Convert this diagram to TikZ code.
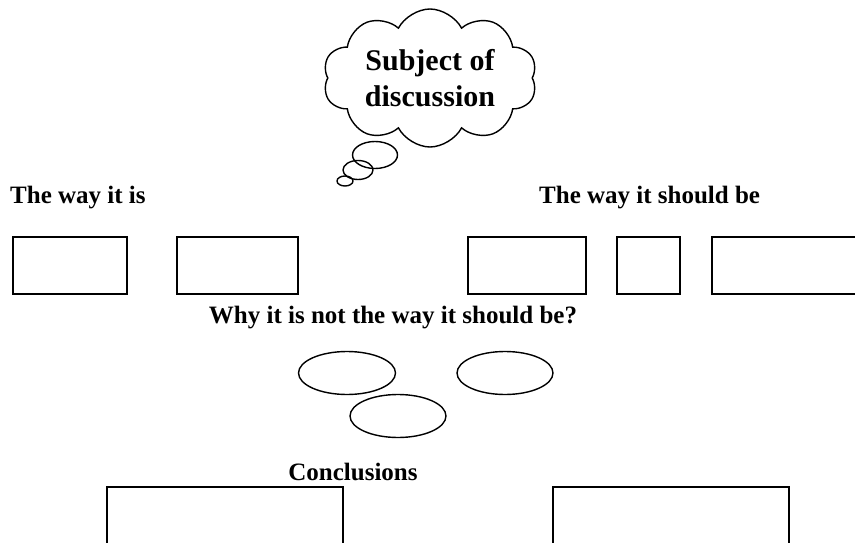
\documentclass[tikz,border=0pt]{standalone}
\usepackage{fontspec}
\setmainfont{Liberation Serif}
\usetikzlibrary{shapes.symbols, shapes.geometric}

\begin{document}
\begin{tikzpicture}[x=1pt, y=-1pt,
    lbl/.style={font=\bfseries\fontsize{25}{27}\selectfont, inner sep=0pt},
    blank/.style={draw, line width=1.4pt, inner sep=0pt, minimum height=57pt},
    bubble/.style={draw, line width=1.4pt, ellipse, inner sep=0pt}]
      \useasboundingbox (0,0) rectangle (855,543);
      \clip (0,0) rectangle (855,543);
      % Cloud:
      \node[cloud, draw, line width=1.4pt, cloud puffs=10, cloud puff arc=125, cloud ignores aspect,
            minimum width=214pt, minimum height=138pt, inner sep=0pt, align=center,
            font=\bfseries\fontsize{30}{36}\selectfont] (subject) at (430,78) {Subject of\\discussion};
      \node[bubble, minimum width=45pt, minimum height=27pt] (big) at (375,155) {};
      \node[bubble, minimum width=30pt, minimum height=19pt] (mid) at (358,170) {};
      \node[bubble, minimum width=16pt, minimum height=10pt] (small) at (345,181) {};
      % Headings:
      \node[lbl, anchor=west] (is) at (10,198) {The way it is};
      \node[lbl, anchor=west] (should) at (539,198) {The way it should be};
      \node[lbl] (why) at (393,318) {Why it is not the way it should be?};
      \node[lbl] (concl) at (353,472) {Conclusions};
      % Boxes:
      \node[blank, minimum width=114pt] (is1) at (70,265.5) {};
      \node[blank, minimum width=121pt] (is2) at (237.5,265.5) {};
      \node[blank, minimum width=118pt] (sh1) at (527,265.5) {};
      \node[blank, minimum width=63pt] (sh2) at (648.5,265.5) {};
      \node[blank, minimum width=158pt] (sh3) at (791,265.5) {};
      % Reasons:
      \node[bubble, minimum width=97pt, minimum height=43pt] (r1) at (347,373) {};
      \node[bubble, minimum width=96pt, minimum height=43pt] (r2) at (505,373) {};
      \node[bubble, minimum width=96pt, minimum height=43pt] (r3) at (398,416) {};
      % Conclusions:
      \node[blank, minimum width=236pt, minimum height=80pt] (c1) at (225,527) {};
      \node[blank, minimum width=236pt, minimum height=80pt] (c2) at (671,527) {};
\end{tikzpicture}
\end{document}
